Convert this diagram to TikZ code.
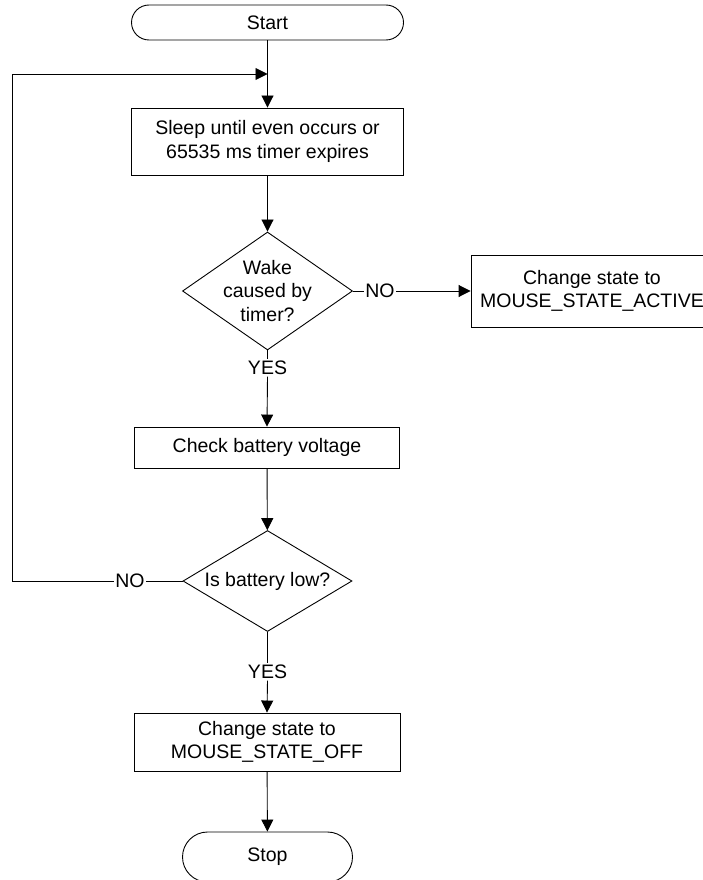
\documentclass[tikz,border=0pt]{standalone}
\usepackage{fontspec}
\setmainfont{Liberation Sans}
\usetikzlibrary{shapes.geometric,arrows.meta}
\begin{document}
\begin{tikzpicture}[x=1pt,y=-1pt,
  every node/.style={font=\fontsize{19.5}{23.3}\selectfont},
  line/.style={draw=black, line width=0.9pt},
  flow/.style={line, -{Triangle[length=12pt,width=12pt]}},
  terminal/.style={line, rectangle, rounded corners=#1, inner sep=0pt},
  process/.style={line, rectangle, inner sep=0pt, align=center},
  decision/.style={line, diamond, inner sep=0pt},
  tag/.style={inner sep=1.5pt}
]
\clip (0,0) rectangle (703,880);
\useasboundingbox (0,0) rectangle (703,880);

% main column
\node[terminal=17.5pt, minimum width=272pt, minimum height=35pt] (start) at (267.5,22.5) {Start};
\node[process, minimum width=272pt, minimum height=67pt] (sleep) at (267.5,141.5)
  {Sleep until even occurs or\\65535 ms timer expires};
\node[decision, minimum width=170pt, minimum height=118pt] (d1) at (267.5,291) {};
\node[align=center, inner sep=0pt] (d1txt) at (d1.center) {Wake\\caused by\\timer?};
\node[process, minimum width=242pt, minimum height=72pt] (active) at (592,291)
  {Change state to\\MOUSE\_STATE\_ACTIVE};
\node[process, minimum width=265pt, minimum height=41pt] (check) at (267,447.5) {Check battery voltage};
\node[decision, minimum width=169pt, minimum height=101pt] (d2) at (267.5,581) {};
\node[inner sep=0pt] (d2txt) at (d2.center) {Is battery low?};
\node[process, minimum width=266pt, minimum height=58pt] (off) at (267,742)
  {Change state to\\MOUSE\_STATE\_OFF};
\node[terminal=25pt, minimum width=170pt, minimum height=50pt] (stop) at (267.5,857) {Stop};

% branch labels
\node[tag] (no1) at (380,291) {NO};
\node[tag] (yes1) at (267.5,368) {YES};
\node[tag] (no2) at (130,581) {NO};
\node[tag] (yes2) at (267.5,672) {YES};

% loop-back corners
\coordinate (lb) at (12,581);
\coordinate (lt) at (12,74);
\coordinate (join) at (267.5,74);

% connectors
\draw[flow] (start) -- (sleep);
\draw[flow] (sleep) -- (d1);
\draw[line] (d1.east) -- (no1.west);
\draw[flow] (no1.east) -- (active.west);
\draw[line] (d1.south) -- (yes1.north);
\draw[flow] (yes1.south) -- (check.north);
\draw[flow] (check) -- (d2);
\draw[line] (d2.west) -- (no2.east);
\draw[flow] (no2.west) -- (lb) -- (lt) -- (join);
\draw[line] (d2.south) -- (yes2.north);
\draw[flow] (yes2.south) -- (off.north);
\draw[flow] (off) -- (stop);
\end{tikzpicture}
\end{document}
